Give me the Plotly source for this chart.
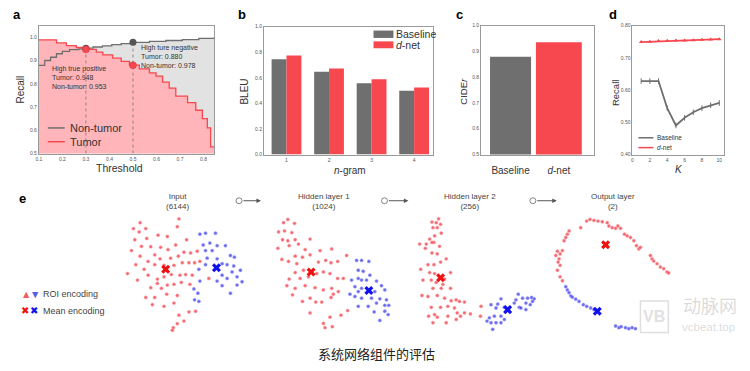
import plotly.graph_objects as go

W, H = 750, 371
FONT = "Liberation Sans"
GRAY = "#6f6f6f"
RED = "#f7474f"
PINK = "#ffb5b9"
LGRAY = "#e2e2e2"
RED_PT = "rgba(238,70,80,0.8)"
BLUE_PT = "rgba(70,70,230,0.8)"

# ---------------- panel a data ----------------
nontumor_x = [0.1, 0.125, 0.15, 0.175, 0.2, 0.23, 0.27, 0.3, 0.33, 0.37, 0.41, 0.45, 0.5, 0.57, 0.64, 0.71, 0.78, 0.845]
nontumor_y = [0.879, 0.90, 0.914, 0.929, 0.939, 0.947, 0.95, 0.953, 0.958, 0.963, 0.968, 0.973, 0.978, 0.982, 0.986, 0.99, 0.995, 1.0]
tumor_x = [0.1, 0.175, 0.217, 0.259, 0.30, 0.344, 0.372, 0.414, 0.45, 0.485, 0.527, 0.57, 0.598, 0.626, 0.654, 0.682, 0.732, 0.767, 0.795, 0.816, 0.83, 0.845]
tumor_y = [0.989, 0.976, 0.964, 0.956, 0.948, 0.936, 0.924, 0.91, 0.896, 0.88, 0.864, 0.847, 0.833, 0.807, 0.781, 0.747, 0.719, 0.686, 0.65, 0.61, 0.529, 0.529]
highlight_thr = [0.3, 0.5]
highlight_nontumor = [0.953, 0.978]
highlight_tumor = [0.948, 0.880]

# ---------------- panel b data ----------------
ngram = [1, 2, 3, 4]
bleu_baseline = [0.744, 0.647, 0.558, 0.499]
bleu_dnet = [0.775, 0.673, 0.588, 0.524]

# ---------------- panel c data ----------------
cider_models = ["Baseline", "<i>d</i>-net"]
cider_values = [0.879, 0.936]

# ---------------- panel d data ----------------
k_values = [1, 2, 3, 4, 5, 6, 7, 8, 9, 10]
recall_baseline = [0.628, 0.628, 0.628, 0.544, 0.490, 0.514, 0.531, 0.544, 0.553, 0.560]
recall_dnet = [0.749, 0.750, 0.752, 0.753, 0.754, 0.754, 0.755, 0.756, 0.757, 0.758]

# ---------------- panel e data (2-D embeddings, arbitrary units) ----------------
input_red = [(185,28),(180,52),(68,40),(48,58),(85,58),(65,68),(52,92),(88,88),(122,78),(150,82),(208,92),
             (100,113),(130,115),(72,112),(42,125),(175,108),(152,122),(200,130),(220,132),(240,127),(68,142),
             (112,138),(128,150),(160,148),(183,142),(92,158),(55,168),(80,182),(112,168),(140,170),(170,170),
             (195,162),(215,162),(232,162),(248,158),(30,195),(60,215),(92,200),(120,212),(140,205),(162,198),
             (188,200),(205,198),(225,200),(100,238),(132,240),(150,230),(170,228),(192,222),(218,228),(85,268),
             (112,268),(148,258),(180,262),(275,210),(105,290),(140,295),(170,285),(185,322),(215,312),(235,310),
             (200,340),(180,348),(168,360),(165,368),(120,225)]
input_blue = [(248,75),(265,72),(295,72),(258,108),(278,102),(300,110),(325,110),(285,125),(265,125),(340,140),
              (352,145),(270,148),(300,150),(265,168),(315,165),(330,168),(350,172),(370,185),(245,182),(345,190),
              (315,200),(330,210),(360,205),(248,218),(300,218),(375,220),(360,230),(315,232),(230,242),(242,255),
              (340,255),(232,275),(245,280)]
input_centers = [(145,182),(298,177)]

hidden1_red = [(78,30),(65,40),(98,42),(50,68),(68,65),(90,70),(62,92),(78,95),(100,92),(145,90),(48,118),(82,110),
               (110,105),(130,122),(175,125),(210,120),(60,152),(80,158),(100,142),(122,145),(145,138),(170,160),
               (192,155),(208,162),(228,158),(255,140),(105,165),(125,185),(100,192),(82,212),(115,210),(140,205),
               (165,195),(185,190),(205,195),(228,210),(245,210),(75,232),(100,240),(130,232),(160,238),(185,245),
               (210,240),(230,250),(92,260),(122,280),(145,270),(162,282),(180,282),(208,268),(215,258),(145,315),
               (205,328),(238,322),(258,308),(185,347),(212,357),(190,360)]
hidden1_blue = [(285,155),(300,155),(322,158),(290,185),(305,188),(325,200),(270,215),(290,210),(300,215),(315,215),
                (345,218),(360,232),(280,235),(300,240),(265,258),(280,265),(290,250),(340,250),(370,245),(300,270),
                (330,270),(355,272),(375,275),(290,295),(320,295),(345,285),(370,292),(382,292),(338,312),(370,310),
                (380,320),(355,338)]
hidden1_centers = [(148,190),(322,247)]

hidden2_red = [(112,28),(92,38),(105,40),(118,45),(95,55),(108,55),(120,72),(100,80),(85,90),(55,105),(75,105),
               (98,100),(72,118),(115,112),(92,132),(108,135),(135,150),(80,168),(98,168),(118,160),(58,182),(85,192),
               (100,195),(65,215),(90,215),(105,222),(130,212),(148,192),(95,240),(120,240),(148,240),(62,262),(80,265),
               (108,262),(130,270),(150,278),(165,275),(175,280),(190,282),(90,298),(118,298),(140,295),(160,300),
               (208,318),(82,325),(100,320),(108,328),(140,325),(168,315),(178,325),(190,315),(95,345),(135,345),
               (165,335),(240,295),(238,325),(92,100),(125,228)]
hidden2_blue = [(300,272),(352,258),(365,270),(380,270),(392,268),(400,272),(290,288),(270,290),(285,300),(310,298),
                (340,285),(355,298),(375,285),(388,290),(265,330),(280,325),(300,325),(258,340),(270,345),(285,345),
                (300,345),(275,365),(375,305),(322,305),(345,275),(395,280),(360,300),(310,335)]
hidden2_centers = [(118,208),(320,305)]

output_red = [(258,140),(268,135),(280,138),(292,140),(305,142),(320,145),(325,155),(335,160),(345,162),(352,155),
              (360,162),(372,180),(380,185),(390,190),(400,200),(408,215),(415,225),(420,220),(450,245),(455,255),
              (460,262),(470,270),(480,280),(490,285),(500,295),(505,298),(240,160),(205,170),(200,180),(195,190),
              (190,200),(185,230),(170,232),(178,240),(165,245),(175,255),(172,265),(178,275),(170,290),(178,310),
              (185,322)]
output_blue = [(195,340),(200,350),(205,358),(210,368),(215,372),(225,378),(235,385),(248,395),(258,400),(270,405),
               (280,410),(345,460),(355,465),(362,462),(375,465),(385,468),(395,465),(405,468)]
output_centers = [(315,212),(290,415)]

layer_titles = ["Input<br>(6144)", "Hidden layer 1<br>(1024)", "Hidden layer 2<br>(256)", "Output layer<br>(2)"]


def px(x):
    return x / W


def py(y):
    return 1 - y / H


fig = go.Figure()

# ---- panel a ----
fig.add_trace(go.Scatter(x=nontumor_x, y=nontumor_y, mode="lines", line=dict(shape="hv", width=0),
                         fill="tozeroy", fillcolor=LGRAY, showlegend=False, hoverinfo="skip"))
fig.add_trace(go.Scatter(x=tumor_x, y=tumor_y, mode="lines", line=dict(shape="hv", width=0),
                         fill="tozeroy", fillcolor=PINK, showlegend=False, hoverinfo="skip"))
for t, yv in zip(highlight_thr, highlight_nontumor):
    fig.add_trace(go.Scatter(x=[t, t], y=[0.5, yv], mode="lines", line=dict(color="#777", width=0.8, dash="dot"),
                             showlegend=False))
fig.add_trace(go.Scatter(x=nontumor_x, y=nontumor_y, mode="lines", line=dict(shape="hv", color=GRAY, width=1.3),
                         name="Non-tumor", showlegend=False))
fig.add_trace(go.Scatter(x=tumor_x, y=tumor_y, mode="lines", line=dict(shape="hv", color=RED, width=1.3),
                         name="Tumor", showlegend=False))
fig.add_trace(go.Scatter(x=highlight_thr, y=highlight_nontumor, mode="markers",
                         marker=dict(color="#555", size=7), showlegend=False))
fig.add_trace(go.Scatter(x=highlight_thr, y=highlight_tumor, mode="markers",
                         marker=dict(color=RED, size=7, line=dict(color="#c33", width=0.5)), showlegend=False))

# ---- panel b ----
fig.add_trace(go.Bar(x=ngram, y=bleu_baseline, width=0.35, offset=-0.35, marker=dict(color=GRAY, line_width=0),
                     name="Baseline", xaxis="x2", yaxis="y2", showlegend=False))
fig.add_trace(go.Bar(x=ngram, y=bleu_dnet, width=0.35, offset=0, marker=dict(color=RED, line_width=0),
                     name="d-net", xaxis="x2", yaxis="y2", showlegend=False))

# ---- panel c ----
fig.add_trace(go.Bar(x=[0, 1], y=cider_values, width=[0.85, 0.95], marker=dict(color=[GRAY, RED], line_width=0),
                     showlegend=False, xaxis="x3", yaxis="y3", base=0))

# ---- panel d ----
fig.add_trace(go.Scatter(x=k_values, y=recall_baseline, mode="lines+markers", name="Baseline",
                         line=dict(color=GRAY, width=1.8),
                         marker=dict(size=4, symbol="line-ns-open", line=dict(width=1, color=GRAY)),
                         xaxis="x4", yaxis="y4", showlegend=False))
fig.add_trace(go.Scatter(x=k_values, y=recall_dnet, mode="lines+markers", name="d-net",
                         line=dict(color=RED, width=1.8), marker=dict(size=4, symbol="triangle-up", color=RED),
                         xaxis="x4", yaxis="y4", showlegend=False))

# ---- panel e ----
layers = [(input_red, input_blue, input_centers),
          (hidden1_red, hidden1_blue, hidden1_centers),
          (hidden2_red, hidden2_blue, hidden2_centers),
          (output_red, output_blue, output_centers)]
for i, (reds, blues, cents) in enumerate(layers):
    ax = str(5 + i)
    fig.add_trace(go.Scatter(x=[p[0] for p in reds], y=[p[1] for p in reds], mode="markers",
                             marker=dict(color=RED_PT, size=3.3, line=dict(color="rgba(255,170,175,0.6)", width=0.8)),
                             showlegend=False, xaxis="x" + ax, yaxis="y" + ax))
    fig.add_trace(go.Scatter(x=[p[0] for p in blues], y=[p[1] for p in blues], mode="markers",
                             marker=dict(color=BLUE_PT, size=3.3, line=dict(color="rgba(170,170,255,0.6)", width=0.8)),
                             showlegend=False, xaxis="x" + ax, yaxis="y" + ax))
    fig.add_trace(go.Scatter(x=[cents[0][0]], y=[cents[0][1]], mode="markers",
                             marker=dict(color="#ee1111", size=8, symbol="x"), showlegend=False,
                             xaxis="x" + ax, yaxis="y" + ax))
    fig.add_trace(go.Scatter(x=[cents[1][0]], y=[cents[1][1]], mode="markers",
                             marker=dict(color="#1111ee", size=8, symbol="x"), showlegend=False,
                             xaxis="x" + ax, yaxis="y" + ax))

frame = dict(showline=True, mirror=True, linecolor="#9a9a9a", linewidth=1, showgrid=False, zeroline=False,
             ticks="", tickfont=dict(size=5, color="#555"))
hidden = dict(visible=False, showgrid=False, zeroline=False)


def dom(x0, x1):
    return [px(x0), px(x1)]


def domy(y0, y1):
    return [py(y1), py(y0)]


lay = dict(
    width=W, height=H, margin=dict(l=0, r=0, t=0, b=0), paper_bgcolor="white", plot_bgcolor="rgba(0,0,0,0)",
    font=dict(family=FONT, color="#333"), barmode="overlay", showlegend=False,
    xaxis=dict(domain=dom(36, 212), range=[0.1, 0.845], tickvals=[0.1, 0.2, 0.3, 0.4, 0.5, 0.6, 0.7, 0.8], **frame),
    yaxis=dict(domain=domy(23, 153), range=[0.5, 1.05], tickvals=[0.5, 0.6, 0.7, 0.8, 0.9, 1.0], tickformat=".1f",
               **frame),
    xaxis2=dict(domain=dom(262, 432), range=[0.47, 4.45], tickvals=ngram, anchor="y2", **frame),
    yaxis2=dict(domain=domy(24, 154), range=[0, 1.0], tickvals=[0, 0.2, 0.4, 0.6, 0.8, 1.0], tickformat=".1f",
                anchor="x2", **frame),
    xaxis3=dict(domain=dom(480, 593), range=[-0.61, 1.72], anchor="y3", **{**frame,
                "tickfont": dict(size=10, color="#333")}, tickvals=[0, 1], ticktext=cider_models, ticklabelstandoff=6),
    yaxis3=dict(domain=domy(23, 154), range=[0.5, 1.0], tickvals=[0.5, 0.6, 0.7, 0.8, 0.9, 1.0], tickformat=".1f",
                anchor="x3", **frame),
    xaxis4=dict(domain=dom(632, 724), range=[0, 10.55], tickvals=[0, 2, 4, 6, 8, 10], anchor="y4", **frame),
    yaxis4=dict(domain=domy(23, 154), range=[0.40, 0.80], tickvals=[0.4, 0.5, 0.6, 0.7, 0.8], tickformat=".2f",
                anchor="x4", **frame),
    xaxis5=dict(domain=dom(115, 250), range=[0, 405], anchor="y5", **hidden),
    yaxis5=dict(domain=domy(210, 335), range=[375, 0], anchor="x5", **hidden),
    xaxis6=dict(domain=dom(260, 400), range=[0, 420], anchor="y6", **hidden),
    yaxis6=dict(domain=domy(210, 335), range=[375, 0], anchor="x6", **hidden),
    xaxis7=dict(domain=dom(400, 540), range=[0, 420], anchor="y7", **hidden),
    yaxis7=dict(domain=domy(210, 335), range=[375, 0], anchor="x7", **hidden),
    xaxis8=dict(domain=dom(500, 750), range=[0, 750], anchor="y8", **hidden),
    yaxis8=dict(domain=domy(175, 371), range=[588, 0], anchor="x8", **hidden),
)
fig.update_layout(**lay)

ann = []


def text(t, x, y, size, color="#333", xanchor="center", angle=0, family=None, align="center"):
    f = dict(size=size, color=color)
    if family:
        f["family"] = family
    ann.append(dict(text=t, x=px(x), y=py(y), xref="paper", yref="paper", showarrow=False, xanchor=xanchor,
                    yanchor="middle", textangle=angle, font=f, align=align))


for lbl, x, y in [("a", 14, 12), ("b", 240, 12), ("c", 458, 12), ("d", 612, 12), ("e", 20, 199)]:
    text("<b>%s</b>" % lbl, x, y, 13, "black")

# axis titles
text("Recall", 18, 88, 10, angle=-90)
text("Threshold", 117, 168, 10.5)
text("BLEU", 243, 90, 10, angle=-90)
text("<i>n</i>-gram", 348, 170, 10)
text("CIDE<i>r</i>", 462, 90, 9.5, angle=-90)
text("Recall", 615, 92, 9.5, angle=-90)
text("<i>K</i>", 679, 169, 10)

# annotations a
text("High true positive<br>Tumor: 0.948<br>Non-tumor: 0.953", 47, 76, 7, xanchor="left", align="left")
text("High ture negative<br>Tumor: 0.880<br>Non-tumor: 0.978", 137, 54.5, 7, xanchor="left", align="left")

# legends (drawn manually)
shapes = []


def hline(x0, x1, y, color, width):
    shapes.append(dict(type="line", xref="paper", yref="paper", x0=px(x0), x1=px(x1), y0=py(y), y1=py(y),
                       line=dict(color=color, width=width)))


def rect(x0, x1, y0, y1, color):
    shapes.append(dict(type="rect", xref="paper", yref="paper", x0=px(x0), x1=px(x1), y0=py(y1), y1=py(y0),
                       line=dict(width=0), fillcolor=color))


hline(45, 62, 127, GRAY, 1.5)
text("Non-tumor", 65, 127, 11, xanchor="left")
hline(45, 62, 141, RED, 1.5)
text("Tumor", 65, 141, 11, xanchor="left")

rect(372, 392, 28, 35.5, GRAY)
text("Baseline", 393, 32, 10.5, xanchor="left")
rect(372, 392, 39, 46, RED)
text("<i>d</i>-net", 393, 43, 10.5, xanchor="left")

hline(638, 653, 137, GRAY, 1.5)
text("Baseline", 655, 137, 6.5, xanchor="left")
hline(638, 653, 147, RED, 1.5)
text("<i>d</i>-net", 655, 147, 6.5, xanchor="left")

# panel e texts
for t, x in zip(layer_titles, [175, 322, 469, 612]):
    text(t, x, 202, 8, "#444")
for x0, x1 in [(240, 259), (386, 407), (535, 556)]:
    ann.append(dict(x=px(x1), y=py(201), ax=-(x1 - x0), ay=0, xref="paper", yref="paper", axref="pixel",
                    ayref="pixel", text="", showarrow=True, arrowhead=2, arrowsize=0.9, arrowwidth=1,
                    arrowcolor="#555"))
text("▲", 23, 296, 10.5, "#f45a62")
text("▼", 32, 296, 10.5, "#5a5ae8")
text("ROI encoding", 38, 296, 9, "#444", xanchor="left")
text("✖", 22, 313, 9.5, "#ee1111")
text("✖", 31, 313, 9.5, "#1111ee")
text("Mean encoding", 38, 313, 9, "#444", xanchor="left")

text("系统网络组件的评估", 375, 356, 13, "#222", family="Noto Sans CJK SC")

# watermark
text("动脉网", 710, 307, 18, "rgba(150,150,150,0.35)", family="Noto Sans CJK SC")
text("vcbeat.top", 708, 329, 11.5, "rgba(150,150,150,0.35)")
text("<b>VB</b>", 654, 319, 16, "rgba(150,150,150,0.3)")
shapes.append(dict(type="rect", xref="paper", yref="paper", x0=px(640), x1=px(668), y0=py(335), y1=py(303),
                   line=dict(color="rgba(150,150,150,0.3)", width=1.5)))

for cx in [237, 383, 532]:
    shapes.append(dict(type="circle", xref="paper", yref="paper", x0=px(cx - 3), x1=px(cx + 3),
                       y0=py(204), y1=py(198), line=dict(color="#666", width=0.8), fillcolor="white"))

fig.update_layout(annotations=ann, shapes=shapes)

fig.write_html("out.html", config={"displayModeBar": False, "staticPlot": True},
               post_script="document.body.style.margin='0';document.body.style.overflow='hidden';")
